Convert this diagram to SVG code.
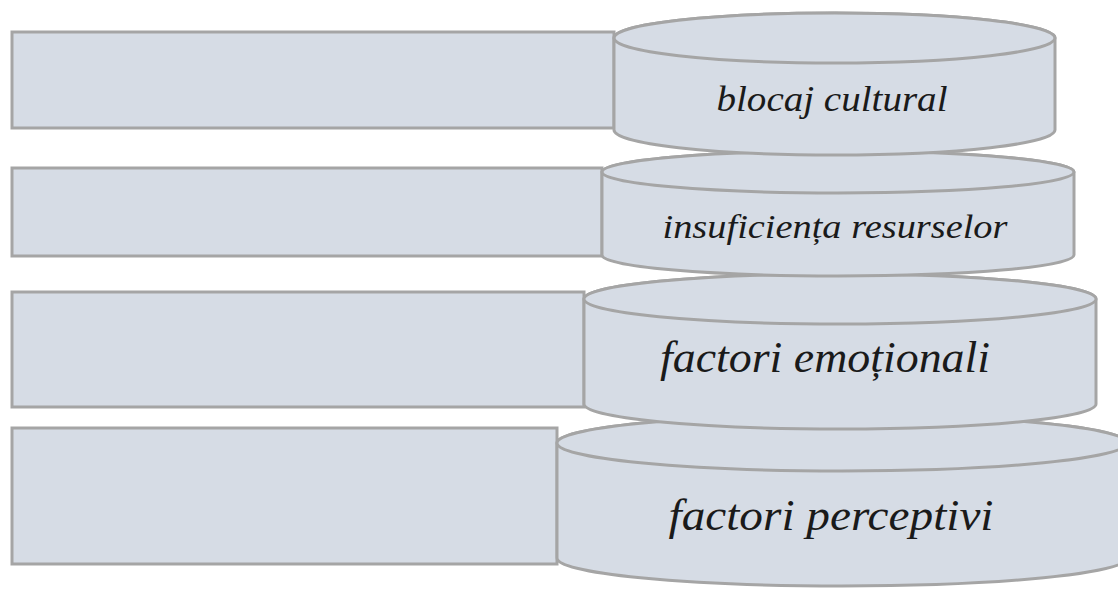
<svg xmlns="http://www.w3.org/2000/svg" width="1118" height="589" viewBox="0 0 1118 589">
  <style>
    .box { fill: #D6DCE5; stroke: #A5A5A5; stroke-width: 3; }
    .lbl { font-family: "Liberation Serif", "DejaVu Serif", serif; font-style: italic; fill: #1a1a1a; text-anchor: middle; }
  </style>
  <rect width="1118" height="589" fill="#FFFFFF"/>
  <g id="connectors"/>
  <g id="row4">
    <rect class="box" x="12" y="428" width="545" height="136"/>
    <path class="box" d="M557,443 L557,558 A285,28 0 0 0 1127,558 L1127,443 A285,28 0 0 0 557,443 Z"/>
    <ellipse class="box" cx="842" cy="443" rx="285" ry="28"/>
    <text class="lbl" x="831" y="530" font-size="44" textLength="325" lengthAdjust="spacingAndGlyphs">factori perceptivi</text>
  </g>
  <g id="row3">
    <rect class="box" x="12" y="292" width="572" height="115"/>
    <path class="box" d="M584,299 L584,404 A256,25 0 0 0 1096,404 L1096,299 A256,25 0 0 0 584,299 Z"/>
    <ellipse class="box" cx="840" cy="299" rx="256" ry="25"/>
    <text class="lbl" x="825" y="372" font-size="44" textLength="330" lengthAdjust="spacingAndGlyphs">factori emoționali</text>
  </g>
  <g id="row2">
    <rect class="box" x="12" y="168" width="590" height="88"/>
    <path class="box" d="M602,172 L602,255 A236,21 0 0 0 1074,255 L1074,172 A236,21 0 0 0 602,172 Z"/>
    <ellipse class="box" cx="838" cy="172" rx="236" ry="21"/>
    <text class="lbl" x="835" y="238" font-size="34" textLength="345" lengthAdjust="spacingAndGlyphs">insuficiența resurselor</text>
  </g>
  <g id="row1">
    <rect class="box" x="12" y="32" width="602" height="96"/>
    <path class="box" d="M614,38 L614,130 A220.5,25 0 0 0 1055,130 L1055,38 A220.5,25 0 0 0 614,38 Z"/>
    <ellipse class="box" cx="834.5" cy="38" rx="220.5" ry="25"/>
    <text class="lbl" x="832" y="111" font-size="36" textLength="231" lengthAdjust="spacingAndGlyphs">blocaj cultural</text>
  </g>
</svg>
